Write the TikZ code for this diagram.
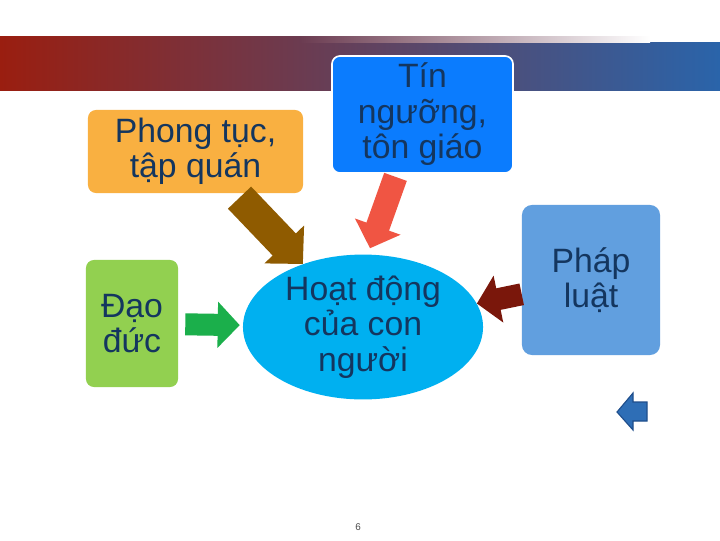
\documentclass[tikz,border=0pt]{standalone}
\usepackage{fontspec}
\setmainfont{Liberation Sans}
\usepackage{tikz}
\usetikzlibrary{arrows.meta, calc, shapes.geometric}
\definecolor{bnRed}{HTML}{9A1E10}
\definecolor{bnBlue}{HTML}{2A64AA}
\definecolor{txtNavy}{HTML}{14365F}
\definecolor{bxOrange}{HTML}{F9B041}
\definecolor{bxBlue}{HTML}{0B7CFE}
\definecolor{bxGreen}{HTML}{92D050}
\definecolor{bxCyan}{HTML}{00B0F0}
\definecolor{bxSky}{HTML}{619FDF}
\definecolor{arBrown}{HTML}{8F5B00}
\definecolor{arRed}{HTML}{F05543}
\definecolor{arGreen}{HTML}{1BAF4B}
\definecolor{arMaroon}{HTML}{7A170B}
\definecolor{navFill}{HTML}{2E6EB6}
\definecolor{navEdge}{HTML}{1F4E8C}

\begin{document}
\begin{tikzpicture}[
  x=0.025cm, y=-0.025cm,
  font=\fontsize{24}{25.2}\selectfont,
  box/.style={rounded corners=0.2cm, inner sep=0pt, align=center, text=txtNavy},
  blob/.style={ellipse, inner sep=0pt, align=center, text=txtNavy, fill=bxCyan,
               minimum width=6cm, minimum height=3.45cm},
  brownarr/.style={draw=arBrown, line width=0.8cm, -{Triangle[length=0.675cm,width=1.33cm]}},
  redarr/.style={draw=arRed, line width=0.6cm, -{Triangle[length=0.575cm,width=1.175cm]}},
  greenarr/.style={draw=arGreen, line width=0.55cm, -{Triangle[length=0.55cm,width=1.125cm]}},
  maroonarr/.style={draw=arMaroon, line width=0.55cm, -{Triangle[length=0.55cm,width=1.165cm]}},
]
\useasboundingbox (0,0) rectangle (720,540);
\fill[white] (0,0) rectangle (720,540);

\fill[left color=bnRed, right color=bnBlue] (0,36) rectangle (720,90);
\fill[left color=bnBlue!42!bnRed, right color=white] (300,36) rectangle (650,42);
\fill[white] (650,36) rectangle (720,42);

\node[box, fill=bxOrange, minimum width=5.375cm, minimum height=2.075cm] (phong) at (195.5,151.5) {Phong tục,\\tập quán};
\node[box, fill=bxBlue, draw=white, line width=1.2pt, minimum width=4.525cm, minimum height=2.925cm] (tin) at (422.5,114.5) {Tín\\ngưỡng,\\tôn giáo};
\node[box, fill=bxGreen, minimum width=2.3cm, minimum height=3.175cm] (dao) at (132,323.5) {Đạo\\đức};
\node[blob] (hoat) at (363,327) {Hoạt động\\của con\\người};
\node[box, fill=bxSky, rounded corners=0.25cm, minimum width=3.45cm, minimum height=3.75cm] (phap) at (591,280) {Pháp\\luật};

\draw[brownarr, shorten <=0.15cm] (phong) -- (hoat);
\draw[redarr] ($(tin.south)+(-27,3)$) -- ($(hoat.north)+(7,-6)$);
\draw[greenarr, shorten <=0.175cm, shorten >=0.075cm] (dao) -- (hoat);
\draw[maroonarr] (phap) -- (hoat);

\filldraw[fill=navFill, draw=navEdge, line width=0.8pt]
  (617,412) -- (633,393) -- (633,402) -- (647,402) -- (647,421) -- (633,421) -- (633,430) -- cycle;

\node[text=black!70, font=\fontsize{7}{8}\selectfont] (num) at (358,527) {6};
\end{tikzpicture}
\end{document}
